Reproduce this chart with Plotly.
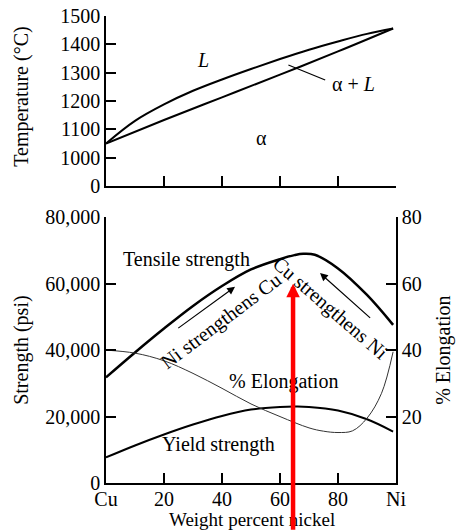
import plotly.graph_objects as go

# ---------------- data ----------------
# Phase diagram (top)
liq_x = [0, 10, 20, 30, 40, 50, 60, 70, 80, 90, 99]
liq_T = [1050, 1130, 1188, 1236, 1276, 1313, 1348, 1381, 1410, 1437, 1456]
sol_x = [0, 20, 40, 60, 80, 99]
sol_T = [1050, 1133, 1213, 1293, 1375, 1456]

# Mechanical properties (bottom)
ts_x = [0, 10, 20, 30, 40, 50, 60, 65, 68, 72, 80, 90, 99]
ts_y = [31800, 39300, 46500, 53300, 59300, 64300, 67400, 68600, 69000, 68700, 64600, 56600, 47600]
ys_x = [0, 10, 20, 30, 40, 50, 60, 65, 70, 80, 90, 99]
ys_y = [7700, 11300, 14600, 17600, 20200, 22100, 22900, 23000, 22900, 21800, 19200, 15500]
el_x = [0, 10, 20, 30, 40, 50, 60, 70, 75, 80, 85, 90, 95, 99]
el_y = [40, 39.1, 36.8, 33, 28.5, 23.8, 20, 16.6, 15.6, 15.2, 15.7, 19.5, 27, 39.5]

x_tickvals = [0, 20, 40, 60, 80, 100]
x_ticktext = ["Cu", "20", "40", "60", "80", "Ni"]
T_tickvals = [900, 1000, 1100, 1200, 1300, 1400, 1500]
T_ticktext = ["0", "1000", "1100", "1200", "1300", "1400", "1500"]
s_tickvals = [0, 20000, 40000, 60000, 80000]
s_ticktext = ["0", "20,000", "40,000", "60,000", "80,000"]
e_tickvals = [20, 40, 60, 80]

marker_x = 64.5      # red arrow composition
marker_top = 60000   # red arrow tip (psi)
marker_bottom = -14500

FONT = "Liberation Serif"
FS = 20

fig = go.Figure()

# top traces
fig.add_trace(go.Scatter(x=liq_x, y=liq_T, mode="lines", line=dict(color="black", width=2, shape="spline"),
                         xaxis="x2", yaxis="y2", showlegend=False, hoverinfo="skip"))
fig.add_trace(go.Scatter(x=sol_x, y=sol_T, mode="lines", line=dict(color="black", width=2, shape="spline"),
                         xaxis="x2", yaxis="y2", showlegend=False, hoverinfo="skip"))
# bottom traces
fig.add_trace(go.Scatter(x=ts_x, y=ts_y, mode="lines", line=dict(color="black", width=2.5, shape="spline"),
                         xaxis="x", yaxis="y", showlegend=False, hoverinfo="skip"))
fig.add_trace(go.Scatter(x=ys_x, y=ys_y, mode="lines", line=dict(color="black", width=2, shape="spline"),
                         xaxis="x", yaxis="y", showlegend=False, hoverinfo="skip"))
fig.add_trace(go.Scatter(x=el_x, y=el_y, mode="lines", line=dict(color="#333333", width=1, shape="spline"),
                         xaxis="x", yaxis="y3", showlegend=False, hoverinfo="skip"))

axis_common = dict(showline=True, linecolor="black", linewidth=1.5, ticks="inside", ticklen=10,
                   tickwidth=1.5, tickcolor="black", showgrid=False, zeroline=False, automargin=False,
                   tickfont=dict(family=FONT, size=FS, color="black"))

top_dom = [0.636, 1.0]
bot_dom = [0.0, 0.569]

fig.update_layout(
    width=457, height=530,
    margin=dict(l=106, r=61, t=16, b=47, autoexpand=False),
    paper_bgcolor="white", plot_bgcolor="white",
    font=dict(family=FONT, size=FS, color="black"),
    xaxis=dict(domain=[0, 1], anchor="y", range=[0, 100], tickvals=x_tickvals, ticktext=x_ticktext,
               ticklabelstandoff=-3, **axis_common),
    yaxis=dict(domain=bot_dom, anchor="x", range=[0, 80000], tickvals=s_tickvals, ticktext=s_ticktext,
               **axis_common),
    yaxis3=dict(overlaying="y", anchor="x", side="right", range=[0, 80], tickvals=e_tickvals,
                **axis_common),
    xaxis2=dict(domain=[0, 1], anchor="y2", range=[0, 100], tickvals=x_tickvals[1:-1],
                showticklabels=False, **axis_common),
    yaxis2=dict(domain=top_dom, anchor="x2", range=[900, 1500], tickvals=T_tickvals, ticktext=T_ticktext,
                **axis_common),
    yaxis4=dict(overlaying="y2", anchor="x2", side="right", range=[900, 1500], tickvals=T_tickvals[1:],
                showticklabels=False, **axis_common),
)

ann = []
tf = dict(family=FONT, size=FS, color="black")
tf_title = dict(family=FONT, size=19, color="black")
# top labels
ann.append(dict(x=33.6, y=1345, xref="x2", yref="y2", text="<i>L</i>", showarrow=False, font=tf))
ann.append(dict(x=53.7, y=1068, xref="x2", yref="y2", text="α", showarrow=False, font=tf))
ann.append(dict(x=85.2, y=1260, xref="x2", yref="y2", text="α + <i>L</i>", showarrow=False, font=tf))
ann.append(dict(x=62.9, y=1327, ax=76.1, ay=1272, xref="x2", yref="y2", axref="x2", ayref="y2",
                text="", showarrow=True, arrowhead=0, arrowwidth=1.2, arrowcolor="black"))
# bottom labels
ann.append(dict(x=27.8, y=67200, xref="x", yref="y", text="Tensile strength", showarrow=False, font=tf))
ann.append(dict(x=61.1, y=30600, xref="x", yref="y", text="% Elongation", showarrow=False, font=tf))
ann.append(dict(x=38.7, y=11500, xref="x", yref="y", text="Yield strength", showarrow=False, font=tf))
ann.append(dict(x=39.5, y=48600, xref="x", yref="y", text="Ni strengthens Cu", showarrow=False,
                textangle=-37, font=tf))
ann.append(dict(x=77.5, y=52600, xref="x", yref="y", text="Cu strengthens Ni", showarrow=False,
                textangle=41, font=tf))
ann.append(dict(x=44.5, y=59100, ax=24.4, ay=46300, xref="x", yref="y", axref="x", ayref="y",
                text="", showarrow=True, arrowhead=2, arrowsize=1.3, arrowwidth=1.2, arrowcolor="black"))
ann.append(dict(x=73.8, y=63200, ax=91.6, ay=49300, xref="x", yref="y", axref="x", ayref="y",
                text="", showarrow=True, arrowhead=2, arrowsize=1.3, arrowwidth=1.2, arrowcolor="black"))
# axis titles
ann.append(dict(x=0, y=0.827, xref="paper", yref="paper", xshift=-84, text="Temperature (°C)",
                textangle=-90, showarrow=False, font=tf, xanchor="center", yanchor="middle"))
ann.append(dict(x=0, y=0.283, xref="paper", yref="paper", xshift=-84, text="Strength (psi)",
                textangle=-90, showarrow=False, font=tf, xanchor="center", yanchor="middle"))
ann.append(dict(x=1, y=0.283, xref="paper", yref="paper", xshift=48, text="% Elongation",
                textangle=-90, showarrow=False, font=tf, xanchor="center", yanchor="middle"))
ann.append(dict(x=0.503, y=-0.0785, xref="paper", yref="paper", text="Weight percent nickel",
                showarrow=False, font=tf_title, xanchor="center", yanchor="middle"))
# red marker arrow
ann.append(dict(x=marker_x, y=marker_top, ax=marker_x, ay=marker_bottom, xref="x", yref="y",
                axref="x", ayref="y", text="", showarrow=True, arrowhead=2, arrowsize=0.6,
                arrowwidth=4.5, arrowcolor="#ff0000"))

fig.update_layout(annotations=ann)
fig.write_html("out.html", config={"displayModeBar": False},
               post_script="document.body.style.margin='0';document.body.style.overflow='hidden';")
